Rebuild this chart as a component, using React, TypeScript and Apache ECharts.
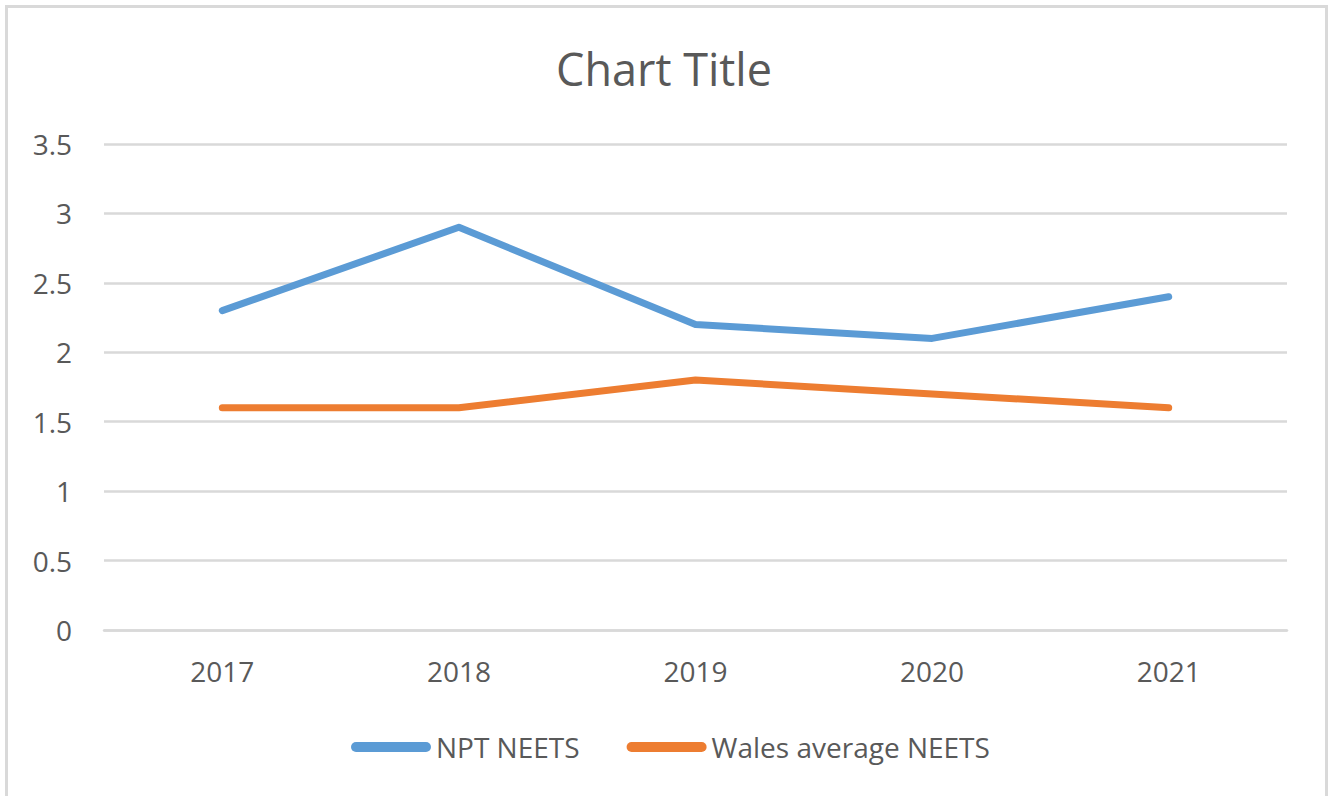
import React, { useEffect, useRef } from "react";
import * as echarts from "echarts";

const categories = ["2017", "2018", "2019", "2020", "2021"];
const nptNeets = [2.3, 2.9, 2.2, 2.1, 2.4];
const walesNeets = [1.6, 1.6, 1.8, 1.7, 1.6];
const seriesNames = ["NPT NEETS", "Wales average NEETS"];
const titleText = "Chart Title";

const FONT = "'Open Sans', sans-serif";
const TEXT = "#595959";
const GRID = "#d9d9d9";
const legendIcon = "path://M5,0 L75,0 A5,5 0 0 1 75,10 L5,10 A5,5 0 0 1 5,0 Z";

export default function App() {
  const ref = useRef<HTMLDivElement>(null);
  useEffect(() => {
    if (!ref.current) return;
    const chart = echarts.init(ref.current, undefined, { renderer: "svg" });
    chart.setOption({
      animation: false,
      backgroundColor: "#ffffff",
      textStyle: { fontFamily: FONT },
      graphic: [
        {
          type: "rect",
          shape: { x: 6.5, y: 6.5, width: 1320, height: 820 },
          style: { fill: "none", stroke: GRID, lineWidth: 3 },
          silent: true,
        },
      ],
      title: {
        text: titleText,
        left: "center",
        top: 41,
        textStyle: { fontFamily: FONT, fontSize: 45, fontWeight: "normal", color: TEXT, lineHeight: 45 },
      },
      grid: { left: 104, right: 41, top: 144, bottom: 166, containLabel: false },
      legend: {
        left: 346,
        top: 726,
        itemWidth: 80,
        itemHeight: 10,
        itemGap: 47,
        icon: legendIcon,
        textStyle: { fontFamily: FONT, fontSize: 28, color: TEXT, lineHeight: 32 },
        data: seriesNames,
      },
      xAxis: {
        type: "category",
        data: categories,
        boundaryGap: true,
        axisLine: { show: true, lineStyle: { color: GRID, width: 2.5 } },
        axisTick: { show: false },
        axisLabel: { fontFamily: FONT, fontSize: 28, color: TEXT, margin: 25, lineHeight: 32 },
      },
      yAxis: {
        type: "value",
        min: 0,
        max: 3.5,
        interval: 0.5,
        axisLine: { show: false },
        axisTick: { show: false },
        splitLine: { lineStyle: { color: GRID, width: 2.5 } },
        axisLabel: { fontFamily: FONT, fontSize: 28, color: TEXT, margin: 32 },
      },
      series: [
        {
          name: seriesNames[0],
          type: "line",
          data: nptNeets,
          showSymbol: false,
          symbol: "none",
          color: "#5b9bd5",
          lineStyle: { color: "#5b9bd5", width: 7, cap: "round", join: "round" },
        },
        {
          name: seriesNames[1],
          type: "line",
          data: walesNeets,
          showSymbol: false,
          symbol: "none",
          color: "#ed7d31",
          lineStyle: { color: "#ed7d31", width: 7, cap: "round", join: "round" },
        },
      ],
    });
    return () => chart.dispose();
  }, []);
  return (
    <div
      ref={ref}
      style={{ position: "fixed", left: 0, top: 0, width: 1328, height: 796 }}
    />
  );
}
